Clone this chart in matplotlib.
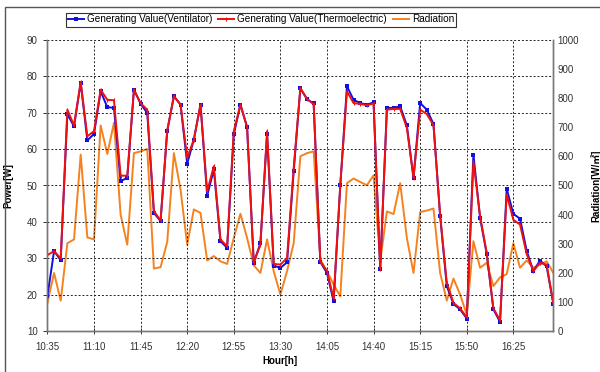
import matplotlib
matplotlib.use("Agg")
import matplotlib.pyplot as plt
from matplotlib.patches import Rectangle
import numpy as np

# ---- data (5-minute samples, 10:35 .. 16:55) ----
ventilator = [19.6, 32.0, 29.5, 69.6, 66.2, 78.2, 62.4, 64.1, 75.8, 71.5,
              71.3, 51.2, 52.1, 76.3, 72.4, 69.9, 42.5, 40.2, 65.0, 74.5,
              72.2, 56.0, 62.6, 72.2, 47.2, 54.4, 34.7, 32.9, 64.0, 72.2,
              66.0, 28.8, 34.2, 64.0, 28.0, 27.4, 28.9, 53.9, 76.7, 73.7,
              72.5, 29.0, 26.0, 18.2, 50.0, 77.2, 73.5, 72.6, 72.2, 72.8,
              27.0, 71.3, 71.3, 71.7, 66.5, 52.1, 72.6, 70.8, 66.9, 41.6,
              22.4, 17.5, 16.0, 13.5, 58.5, 41.1, 31.2, 16.0, 12.6, 49.1,
              42.2, 40.9, 32.1, 26.5, 29.4, 27.8, 17.6]
thermoelectric = [30.9, 32.0, 30.0, 70.8, 66.5, 78.4, 63.5, 64.9, 76.3, 73.5,
                  73.4, 52.7, 52.7, 76.3, 72.6, 70.8, 43.0, 40.4, 65.0, 74.5,
                  72.2, 57.6, 62.6, 72.2, 48.4, 55.3, 35.2, 33.3, 64.9, 72.2,
                  66.0, 28.8, 33.8, 64.9, 28.5, 28.3, 30.1, 54.8, 76.7, 73.7,
                  72.3, 29.2, 26.5, 19.0, 50.2, 75.8, 72.6, 72.4, 72.0, 72.5,
                  27.2, 70.8, 71.0, 71.0, 65.8, 52.1, 70.8, 69.6, 66.5, 42.0,
                  23.3, 17.8, 16.3, 13.8, 56.5, 41.6, 31.5, 16.3, 13.0, 47.5,
                  40.6, 39.3, 31.2, 26.5, 28.8, 28.3, 17.8]
radiation = [97, 200, 105, 302, 315, 606, 322, 315, 706, 608,
             715, 400, 297, 611, 617, 625, 215, 220, 306, 611,
             486, 297, 418, 406, 243, 258, 240, 231, 320, 403,
             320, 226, 200, 315, 206, 126, 206, 302, 600, 611,
             617, 246, 206, 160, 120, 508, 524, 512, 501, 535,
             240, 411, 402, 508, 320, 200, 409, 414, 421, 200,
             105, 181, 126, 57, 309, 218, 235, 155, 185, 196,
             302, 218, 243, 218, 229, 240, 200]
tick_labels = ["10:35", "11:10", "11:45", "12:20", "12:55", "13:30",
               "14:05", "14:40", "15:15", "15:50", "16:25"]
tick_step = 7

plt.rcParams['font.family'] = ['Liberation Sans', 'Noto Sans CJK KR', 'DejaVu Sans']

fig = plt.figure(figsize=(6.0, 3.72), dpi=100)
# chart-area border (clipped at right and bottom like the reference)
fig.patches.append(Rectangle((5 / 600, -0.05), 1.1, 1 - 7 / 372 + 0.05,
                             transform=fig.transFigure, fill=False,
                             edgecolor='#555555', linewidth=1.0))

ax = fig.add_axes([47.4 / 600, 1 - 331.3 / 372, (553.3 - 47.4) / 600, (331.3 - 39.7) / 372])
ax2 = ax.twinx()

x = np.arange(len(ventilator))

l3, = ax2.plot(x, radiation, color='#F5821F', linewidth=1.4, label='Radiation')
l1, = ax.plot(x, ventilator, color='#1010E0', linewidth=1.4, marker='s',
              markersize=2.6, markeredgewidth=0, label='Generating Value(Ventilator)')
l2, = ax.plot(x, thermoelectric, color='#F01010', linewidth=1.4, marker='|',
              markersize=2.5, markeredgewidth=0.8, label='Generating Value(Thermoelectric)')

ax.set_zorder(ax2.get_zorder() + 1)
ax.patch.set_visible(False)

ax.set_xlim(0, len(ventilator) - 1)
ax.set_ylim(10, 90)
ax2.set_ylim(0, 1000)
ax.set_yticks(np.arange(10, 91, 10))
ax2.set_yticks(np.arange(0, 1001, 100))
ax.set_xticks(np.arange(0, tick_step * len(tick_labels), tick_step))
ax.set_xticklabels(tick_labels)

ax.grid(True, color='#222222', linestyle=(0, (2, 2)), linewidth=0.7)

for a in (ax, ax2):
    a.spines['top'].set_visible(False)
    for s in ('left', 'right', 'bottom'):
        a.spines[s].set_color('#777777')
        a.spines[s].set_linewidth(1.0)
    a.tick_params(labelsize=7, colors='#333333', length=3, width=0.7)
ax.tick_params(axis='x', direction='inout', length=5, pad=5)
ax.tick_params(axis='y', pad=4)
ax2.tick_params(axis='y', length=0, pad=3)

ax.set_xlabel('Hour[h]', fontsize=7, fontweight='bold')
ax.xaxis.set_label_coords(0.46, -0.085)
ax.set_ylabel('Power[W]', fontsize=7, fontweight='bold')
ax.yaxis.set_label_coords(-0.068, 0.5)
ax2.set_ylabel('Radiation[W/㎡]', fontsize=7, fontweight='bold')
ax2.yaxis.set_label_coords(1.073, 0.5)

leg = fig.legend(handles=[l1, l2, l3], loc='center', ncol=3,
                 bbox_to_anchor=(261 / 600, 1 - 19.5 / 372), fontsize=7.2,
                 frameon=True, fancybox=False, handlelength=1.6,
                 handletextpad=0.3, columnspacing=0.6, borderpad=0.2,
                 borderaxespad=0)
leg.get_frame().set_edgecolor('#000000')
leg.get_frame().set_linewidth(0.8)

fig.savefig('out.png', dpi=100)
